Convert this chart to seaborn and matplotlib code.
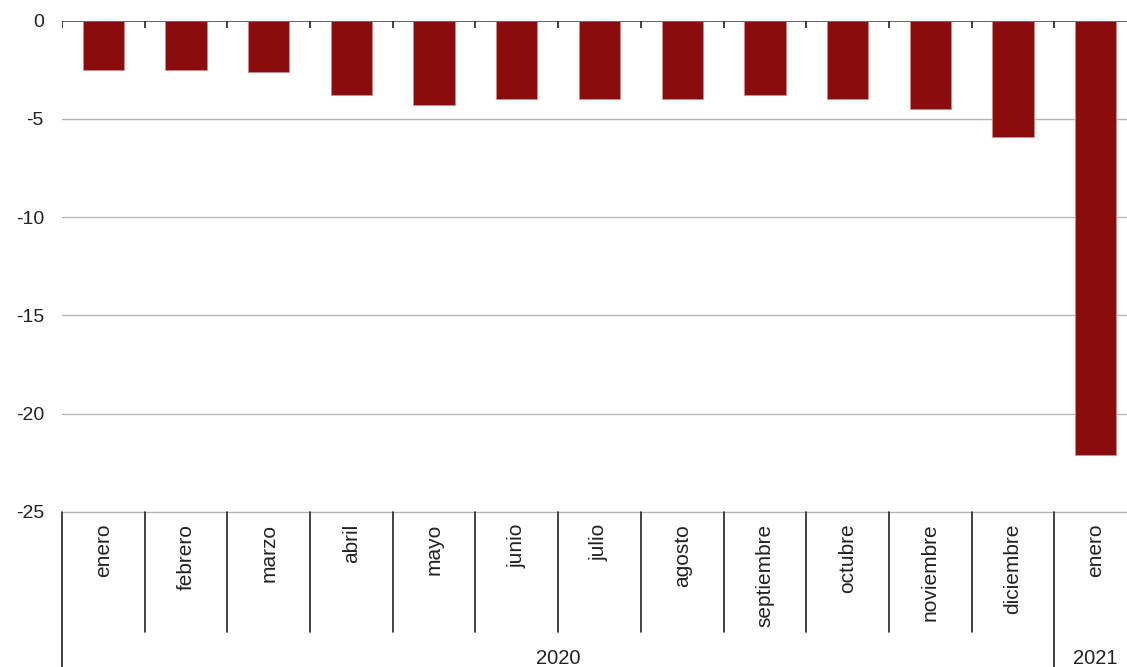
import numpy as np
import pandas as pd
import matplotlib
matplotlib.use("Agg")
import matplotlib.pyplot as plt
import seaborn as sns

# datos
meses = ["enero", "febrero", "marzo", "abril", "mayo", "junio", "julio",
         "agosto", "septiembre", "octubre", "noviembre", "diciembre", "enero"]
anios = ["2020"] * 12 + ["2021"]
valores = [-2.5, -2.5, -2.6, -3.8, -4.3, -4.0, -4.0, -4.0, -3.8, -4.0, -4.5, -5.9, -22.1]
yticks = [0, -5, -10, -15, -20, -25]

df = pd.DataFrame({"mes": meses, "anio": anios, "valor": valores})
df["clave"] = df["mes"] + " " + df["anio"]

sns.set_style("white")
plt.rcParams["font.family"] = ["Liberation Sans", "DejaVu Sans"]

fig = plt.figure(figsize=(11.27, 6.67), dpi=100)
ax = fig.add_axes([62 / 1127, 155 / 667, 1075 / 1127, 491.3 / 667])

sns.barplot(data=df, x="clave", y="valor", color="#8b0c0c", width=0.5,
            edgecolor="#c98c8c", linewidth=0.6, saturation=1, ax=ax, zorder=3)

ax.set_ylim(-25, 0)
ax.set_xlim(-0.5, len(df) - 0.5)
ax.set_yticks(yticks)
ax.set_yticklabels([str(v) for v in yticks], fontsize=14, color="#222222")
ax.tick_params(axis="y", length=0, pad=13)
ax.set_xticks([])
ax.set_xlabel("")
ax.set_ylabel("")
for s in ["left", "right", "bottom", "top"]:
    ax.spines[s].set_visible(False)

# lineas de cuadricula
for v in yticks[1:]:
    ax.axhline(v, color="#b5b5b5", lw=1, zorder=1, clip_on=False)
ax.axhline(0, color="#666666", lw=1.5, zorder=4)

# marcas en el eje del cero
n = len(df)
bordes = np.arange(n + 1) - 0.5
ax.vlines(bordes[:-1], 0, -0.35, color="#222222", lw=1.2, zorder=4)

# separadores y etiquetas del eje categorico
tr = ax.get_xaxis_transform()
for i, b in enumerate(bordes[:-1]):
    cambio_anio = i == 0 or df["anio"][i] != df["anio"][i - 1]
    y0 = -0.316 if cambio_anio else -0.244
    ax.plot([b, b], [0, y0], transform=tr, color="#222222", lw=1.2, clip_on=False)

for i, m in enumerate(df["mes"]):
    ax.text(i, -0.024, m, transform=tr, rotation=90, ha="center", va="top",
            fontsize=15, color="#222222")

for a in df["anio"].unique():
    pos = np.where(df["anio"] == a)[0]
    ax.text((pos[0] + pos[-1]) / 2, -0.298, a, transform=tr, ha="center",
            va="center", fontsize=14.5, color="#222222")

fig.savefig("out.png", dpi=100)
